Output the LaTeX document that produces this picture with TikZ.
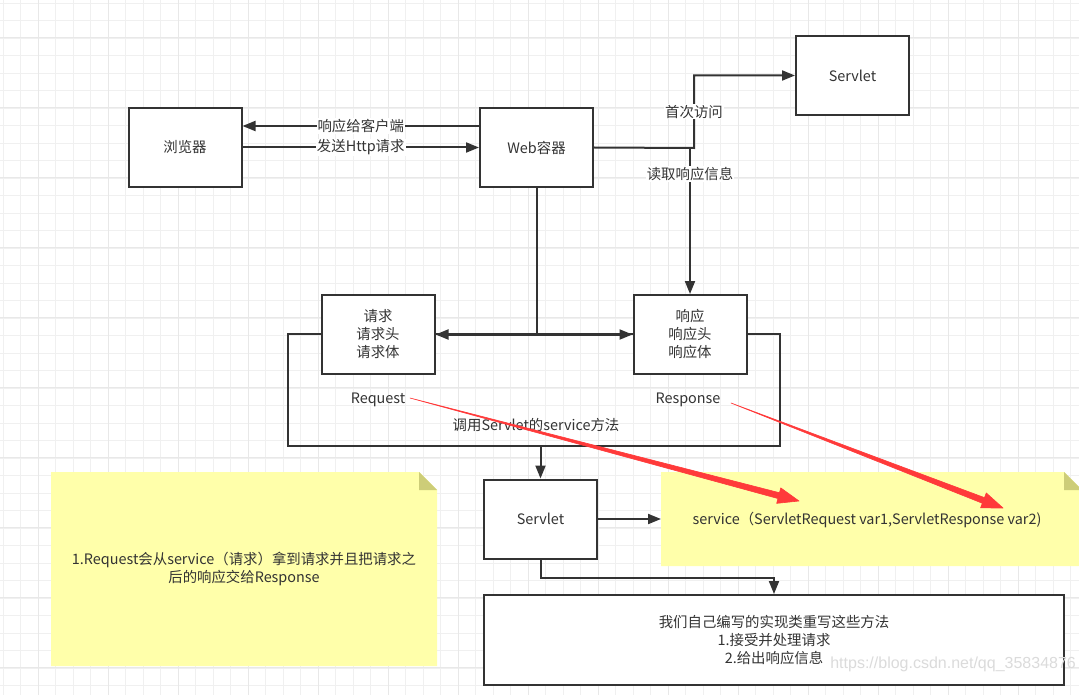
\documentclass[tikz,border=0pt]{standalone}
\usepackage{fontspec}
\setmainfont{Noto Sans CJK SC}
\newfontfamily\markfont{Liberation Sans}
\usetikzlibrary{arrows.meta,calc,positioning}
\definecolor{linec}{HTML}{333333}
\definecolor{notey}{HTML}{FFFFAA}
\definecolor{notefold}{HTML}{CDCD78}
\definecolor{redmark}{HTML}{FF3A3A}

\begin{document}
\begin{tikzpicture}[x=1pt, y=-1pt, line width=2pt, color=linec,
    font=\fontsize{14.4}{18}\selectfont,
    box/.style={draw, fill=white, minimum width=113pt, minimum height=79pt, align=center},
    arr/.style={-{Triangle[length=13pt,width=10pt]}},
    lbl/.style={fill=white, inner sep=1pt},
    gridmin/.style={line width=1pt, draw=black!6},
    gridmaj/.style={line width=1.5pt, draw=black!9}]
  \useasboundingbox (0,0) rectangle (1079,695);
  \fill[white] (0,0) rectangle (1079,695);

  \foreach \i in {0,...,61} \draw[gridmin] ({3.3+17.5*\i},0) -- ({3.3+17.5*\i},695);
  \foreach \i in {0,...,39} \draw[gridmin] (0,{3.3+17.5*\i}) -- (1079,{3.3+17.5*\i});
  \foreach \i in {0,...,15} \draw[gridmaj] ({38.3+70*\i},0) -- ({38.3+70*\i},695);
  \foreach \i in {0,...,9} \draw[gridmaj] (0,{37.7+70*\i}) -- (1079,{37.7+70*\i});

  \coordinate (hintNW) at (51,472);
  \coordinate (svcNW) at (661,472);
  \fill[notey] (hintNW) -- (419,472) -- (437,490) -- (437,666) -- (51,666) -- cycle;
  \fill[notefold] (419,472) -- (419,490) -- (437,490) -- cycle;
  \fill[notey] (svcNW) -- (1064,472) -- (1082,490) -- (1082,566) -- (661,566) -- cycle;
  \fill[notefold] (1064,472) -- (1064,490) -- (1082,490) -- cycle;

  \node[draw, minimum width=492pt, minimum height=112pt] (frame) at (534,390) {};

  \node[box] (browser) at (185,147.5) {浏览器};
  \node[box] (web) at (536.5,147.5) {Web容器};
  \node[box] (servletA) at (852.5,75.5) {Servlet};
  \node[box] (req) at (378,334.5) {请求\\请求头\\请求体};
  \node[box] (resp) at (690,334.5) {响应\\响应头\\响应体};
  \node[box] (servletB) at (540.5,519) {Servlet};
  \node[box, minimum width=580pt, minimum height=90pt] (impl) at (774,640)
    {我们自己编写的实现类重写这些方法\\1.接受并处理请求\\2.给出响应信息};

  \node (reqname) at (378,400) {Request};
  \node (respname) at (688,400) {Response};
  \node (call) at (536,425) {调用Servlet的service方法};
  \node[align=center] (hint) at (244,569) {1.Request会从service（请求）拿到请求并且把请求之\\后的响应交给Response};
  \node (svc) at (867,520) {service（ServletRequest var1,ServletResponse var2)};

  \draw[arr] ([yshift=21.5pt]web.west) -- node[lbl] {响应给客户端} ([yshift=21.5pt]browser.east);
  \draw[arr] (browser.east) -- node[lbl] {发送Http请求} (web.west);

  \coordinate (turn) at (694,148);
  \draw[arr] (web.east) -- (turn) |- node[lbl, pos=0.25] {首次访问} (servletA.west);
  \draw[arr] (resp.north |- web.east) -- node[lbl, pos=0.18] {读取响应信息} (resp.north);

  \coordinate (fork) at (web.south |- req.east);
  \draw (web.south) -- (fork);
  \draw[arr] (fork) -- (req.east);
  \draw[arr] (fork) -- (resp.west);
  \draw[arr] (frame.south -| servletB.north) -- (servletB.north);
  \draw[arr] (servletB.east) -- (svcNW |- servletB.east);
  \draw[arr] (servletB.south) -- ++(0,18) -| (impl.north);

  \node[anchor=west, text=black!14, font=\markfont\fontsize{16}{16}\selectfont] (mark) at (826,664) {https://blog.csdn.net/qq\_35834876};

  \coordinate (reqfrom) at (410,398);
  \coordinate (reqto) at (799,501);
  \coordinate (respfrom) at (731,403);
  \coordinate (respto) at (1003,508);
  \foreach \a/\b in {reqfrom/reqto, respfrom/respto}
    \filldraw[redmark, line width=0.6pt, line join=round] (\a)
      -- ($(\b)!21pt!(\a)!3pt!90:(\b)$) -- ($(\b)!21pt!(\a)!8pt!90:(\b)$) -- (\b)
      -- ($(\b)!21pt!(\a)!8pt!-90:(\b)$) -- ($(\b)!21pt!(\a)!3pt!-90:(\b)$) -- cycle;
\end{tikzpicture}
\end{document}
